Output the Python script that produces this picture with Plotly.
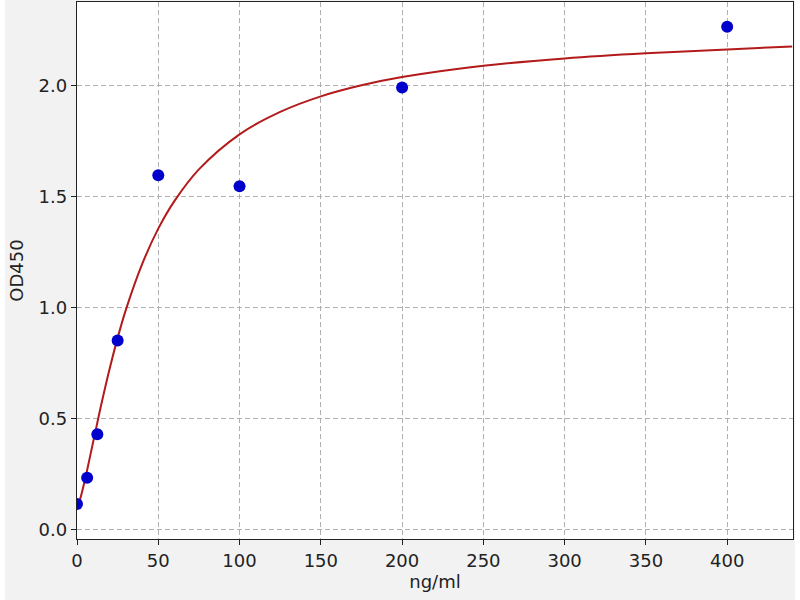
import plotly.graph_objects as go

# Standard points (concentration ng/ml, OD450)
conc = [0, 6.25, 12.5, 25, 50, 100, 200, 400]
od450 = [0.114, 0.232, 0.428, 0.85, 1.595, 1.545, 1.99, 2.264]

# Fitted curve
curve_x = [0, 2, 4, 6.25, 8, 10, 12.5, 15, 20, 25, 30, 40, 50, 60, 75, 100,
           125, 150, 175, 200, 250, 300, 350, 400, 440]
curve_y = [0.10, 0.138, 0.195, 0.267, 0.327, 0.395, 0.48, 0.564, 0.721, 0.862,
           0.987, 1.193, 1.354, 1.479, 1.621, 1.779, 1.880, 1.950, 2.000, 2.037,
           2.088, 2.121, 2.144, 2.161, 2.175]

x_ticks = [0, 50, 100, 150, 200, 250, 300, 350, 400]
y_ticks = [0.0, 0.5, 1.0, 1.5, 2.0]
y_tick_labels = ["0.0", "0.5", "1.0", "1.5", "2.0"]

fig = go.Figure()
fig.add_trace(go.Scatter(
    x=curve_x, y=curve_y, mode="lines", line_shape="spline",
    line=dict(color="#b31b1b", width=2), hoverinfo="skip", showlegend=False))
fig.add_trace(go.Scatter(
    x=conc, y=od450, mode="markers",
    marker=dict(color="#0000cc", size=12, line=dict(width=0)), showlegend=False))

font = dict(family="DejaVu Sans", size=18, color="#222222")
axis_common = dict(
    showline=True, linecolor="#222222", linewidth=1.3, mirror=True,
    ticks="outside", ticklen=5, tickcolor="#222222", tickwidth=1.2,
    showgrid=True, gridcolor="#b0b0b0", griddash="5px,3px", gridwidth=1,
    zeroline=False, tickfont=font, automargin=False,
)

fig.update_layout(
    width=800, height=600,
    margin=dict(l=77, r=7, t=2, b=61),
    paper_bgcolor="#f2f2f2", plot_bgcolor="white",
    xaxis=dict(range=[0, 440.5], tickvals=x_ticks,
               title=dict(text="ng/ml", font=font, standoff=4), **axis_common),
    yaxis=dict(range=[-0.044, 2.375], tickvals=y_ticks, ticktext=y_tick_labels,
               title=dict(text="OD450", font=font, standoff=10), **axis_common),
    shapes=[
        dict(type="rect", xref="paper", yref="paper", x0=-0.12, x1=-0.1006,
             y0=-0.2, y1=1.1, fillcolor="white", line=dict(width=0), layer="above"),
        dict(type="rect", xref="paper", yref="paper", x0=1.0028, x1=1.02,
             y0=-0.2, y1=1.1, fillcolor="white", line=dict(width=0), layer="above"),
    ],
)

fig.write_html("out.html", config={"displayModeBar": False},
               post_script="document.body.style.margin='0';document.body.style.padding='0';")
